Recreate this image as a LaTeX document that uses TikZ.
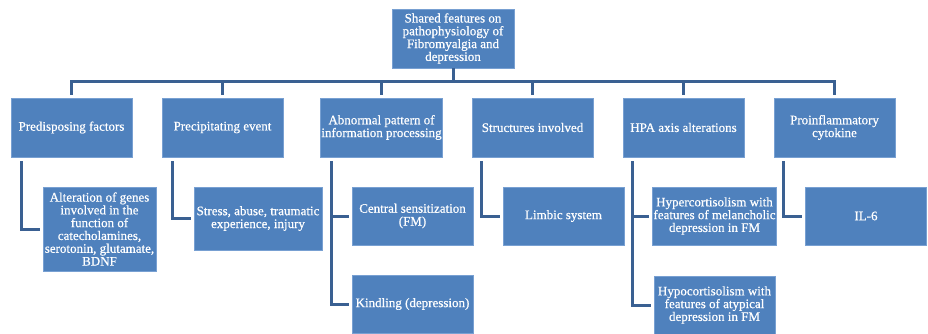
\documentclass[tikz,border=0pt]{standalone}
\usepackage{fontspec}
\setmainfont[FakeBold=0.6]{Liberation Serif}
\definecolor{boxfill}{RGB}{79,129,189}
\definecolor{boxedge}{RGB}{120,160,210}
\definecolor{linecol}{RGB}{58,96,146}
\tikzset{
  box/.style={draw=boxedge, line width=0.6pt, fill=boxfill, text=white, align=center,
    inner sep=1pt, font=\fontsize{13}{12.8}\selectfont},
  conn/.style={draw=linecol, line width=3pt}
}
\begin{document}
\begin{tikzpicture}[x=1pt,y=-1pt]
\useasboundingbox (0,0) rectangle (928,334);
% top
\node[box, minimum width=122pt, minimum height=59pt] (top) at (453,38.5) {Shared features on\\pathophysiology of\\Fibromyalgia and\\depression};
% level 1
\foreach \n/\x/\t in {pre/71.5/Predisposing factors, prec/222.5/Precipitating event, abn/381.5/{Abnormal pattern of\\information processing}, str/532.5/Structures involved, hpa/683.5/HPA axis alterations, pro/834.5/{Proinflammatory\\cytokine}}{
  \node[box, minimum width=121pt, minimum height=59pt] (\n) at (\x,127.5) {\t};
}
% level 2
\node[box, minimum width=113pt, minimum height=84pt] (alt) at (99.5,229) {Alteration of genes\\involved in the\\function of\\catecholamines,\\serotonin, glutamate,\\BDNF};
\node[box, minimum width=128pt, minimum height=63pt] (stress) at (258,218.5) {Stress, abuse, traumatic\\experience, injury};
\node[box, minimum width=121pt, minimum height=58pt] (cen) at (412.5,216) {Central sensitization\\(FM)};
\node[box, minimum width=121pt, minimum height=58pt] (kin) at (412.5,304) {Kindling (depression)};
\node[box, minimum width=121pt, minimum height=58pt] (lim) at (563.5,216) {Limbic system};
\node[box, minimum width=121pt, minimum height=58pt] (hyper) at (714.5,216) {Hypercortisolism with\\features of melancholic\\depression in FM};
\node[box, minimum width=121pt, minimum height=58pt] (hypo) at (714.5,305) {Hypocortisolism with\\features of atypical\\depression in FM};
\node[box, minimum width=121pt, minimum height=58pt] (il) at (866,216) {IL-6};
% tree connectors
\foreach \c in {pre,prec,abn,str,hpa,pro}{
  \draw[conn] (top.south) -- ++(0,13) -| ([yshift=3pt]\c.north);
}
% elbow connectors
\draw[conn] ([xshift=11pt,yshift=-4pt]pre.south west) |- ([xshift=-3pt]alt.west);
\draw[conn] ([xshift=11pt,yshift=-4pt]prec.south west) |- ([xshift=-3pt]stress.west);
\draw[conn] ([xshift=11pt,yshift=-4pt]abn.south west) |- ([xshift=-3pt]cen.west);
\draw[conn] ([xshift=11pt,yshift=-4pt]abn.south west) |- ([xshift=-3pt]kin.west);
\draw[conn] ([xshift=10pt,yshift=-4pt]str.south west) |- ([xshift=-3pt]lim.west);
\draw[conn] ([xshift=10pt,yshift=-4pt]hpa.south west) |- ([xshift=-3pt]hyper.west);
\draw[conn] ([xshift=10pt,yshift=-4pt]hpa.south west) |- ([xshift=-3pt]hypo.west);
\draw[conn] ([xshift=10pt,yshift=-4pt]pro.south west) |- ([xshift=-3pt]il.west);
\end{tikzpicture}
\end{document}
